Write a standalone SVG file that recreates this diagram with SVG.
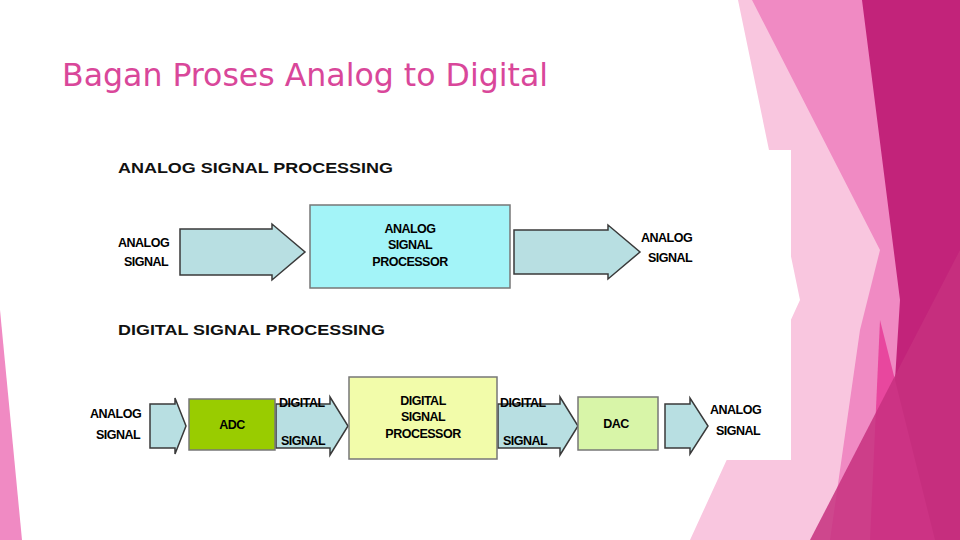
<svg xmlns="http://www.w3.org/2000/svg" width="960" height="540" viewBox="0 0 960 540">
<defs><style>
.ar{fill:#b8dfe2;stroke:#3a3a3a;stroke-width:1.5}
.bx{stroke:#777;stroke-width:1.5}
.t{font-family:"Liberation Sans",Arial,sans-serif;font-weight:bold;fill:#000;font-size:12.5px;letter-spacing:-0.5px}
.h{font-family:"Liberation Sans",Arial,sans-serif;font-weight:bold;fill:#111;font-size:15px}
.c{text-anchor:middle}
</style></defs>
<rect width="960" height="540" fill="#fff"/>
<g id="bg">
<polygon points="738,0 960,0 960,540 690,540 800,300" fill="#f9c6df"/>
<polygon points="752,0 960,0 960,540 830,540 860,330 880,250" fill="#f08ac3"/>
<polygon points="862,0 960,0 960,540 885,540 900,300" fill="#c2237a"/>
<polygon points="880,320 935,540 870,540" fill="#e8479e"/>
<polygon points="810,540 960,250 960,540" fill="#c7307f" opacity="0.85"/>
<polygon points="0,310 22,540 0,540" fill="#f08ac3"/>
<rect x="108" y="150" width="683" height="310" fill="#fff"/>
</g>
<text x="62" y="86" font-family="DejaVu Sans Condensed,DejaVu Sans,sans-serif" font-size="32" fill="#d9479a" textLength="486" lengthAdjust="spacingAndGlyphs">Bagan Proses Analog to Digital</text>
<text class="h" x="118" y="173" textLength="275" lengthAdjust="spacingAndGlyphs">ANALOG  SIGNAL PROCESSING</text>
<text class="h" x="118" y="335" textLength="267" lengthAdjust="spacingAndGlyphs">DIGITAL SIGNAL PROCESSING</text>
<g id="connectors">
<polygon class="ar" points="180,229 272,229 272,224 305,252 272,280 272,275 180,275"/>
<polygon class="ar" points="514,230 608,230 608,225 640,252 608,279 608,274 514,274"/>
<polygon class="ar" points="150,404 175,404 175,398 186,426 175,454 175,448 150,448"/>
<polygon class="ar" points="276,404 330,404 330,397 348,426 330,455 330,448 276,448"/>
<polygon class="ar" points="498,404 560,404 560,397 578,426 560,455 560,448 498,448"/>
<polygon class="ar" points="665,404 690,404 690,398 708,426 690,454 690,448 665,448"/>
</g>
<g id="asp"><rect class="bx" x="310" y="205" width="200" height="83" fill="#a3f4f8"/>
<text class="t c" x="410" y="233">ANALOG</text><text class="t c" x="410" y="249">SIGNAL</text><text class="t c" x="410" y="266">PROCESSOR</text></g>
<g id="adc"><rect class="bx" x="189" y="399" width="86" height="51" fill="#99cc00"/><text class="t c" x="232" y="429">ADC</text></g>
<g id="dsp"><rect class="bx" x="349" y="377" width="148" height="82" fill="#f2fcaa"/>
<text class="t c" x="423" y="405">DIGITAL</text><text class="t c" x="423" y="421">SIGNAL</text><text class="t c" x="423" y="438">PROCESSOR</text></g>
<g id="dac"><rect class="bx" x="578" y="397" width="80" height="53" fill="#d8f5a8"/><text class="t c" x="616" y="428">DAC</text></g>
<g id="labels">
<text class="t" x="118" y="247">ANALOG</text><text class="t" x="124" y="266">SIGNAL</text>
<text class="t" x="641" y="242">ANALOG</text><text class="t" x="648" y="262">SIGNAL</text>
<text class="t" x="90" y="418">ANALOG</text><text class="t" x="96" y="439">SIGNAL</text>
<text class="t" x="279" y="407">DIGITAL</text><text class="t" x="281" y="445">SIGNAL</text>
<text class="t" x="500" y="407">DIGITAL</text><text class="t" x="503" y="445">SIGNAL</text>
<text class="t" x="710" y="414">ANALOG</text><text class="t" x="716" y="435">SIGNAL</text>
</g>
</svg>
